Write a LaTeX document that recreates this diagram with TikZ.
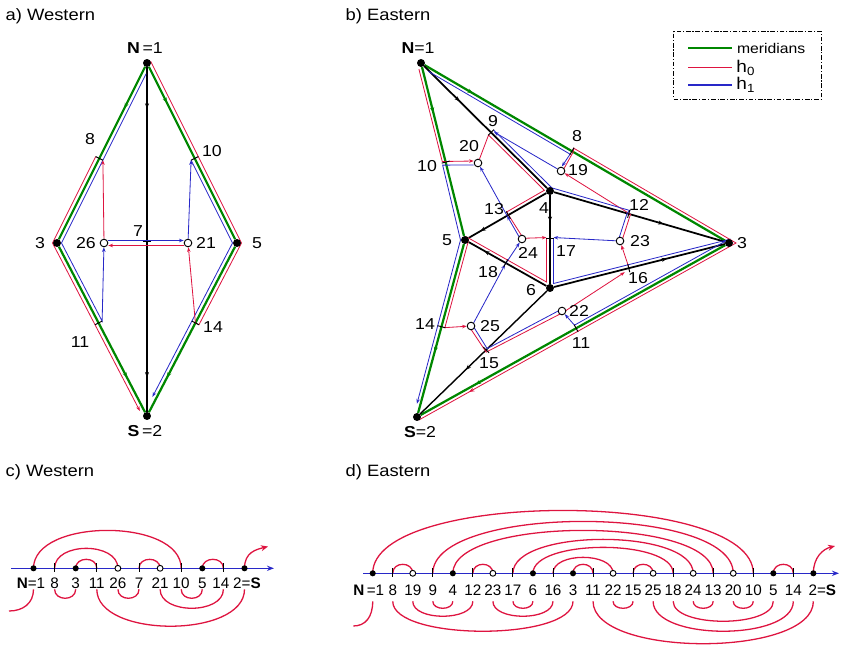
\documentclass[tikz,border=0pt]{standalone}
\usepackage{fontspec}
\setmainfont{Liberation Sans}[FakeStretch=1.12]
\newfontfamily\plainsf{Liberation Sans}
\usetikzlibrary{arrows.meta, calc, decorations.markings}
\pgfdeclarelayer{bg}
\pgfsetlayers{bg,main}
\definecolor{merid}{RGB}{0,135,0}
\definecolor{hred}{RGB}{222,20,64}
\definecolor{hblue}{RGB}{40,40,200}

\begin{document}
\begin{tikzpicture}[x=0.03cm, y=-0.03cm, font=\fontsize{13.5}{15}\selectfont,
    >={Stealth[length=4pt, width=3pt]},
    mer/.style={merid, line width=1.9pt},
    hzero/.style={hred, line width=0.7pt},
    hone/.style={hblue, line width=0.7pt},
    edg/.style={black, line width=1.5pt},
    tck/.style={black, line width=0.8pt},
    arr/.style={postaction={decorate, decoration={markings,
        mark=at position #1 with {\arrow{Stealth[length=4.5pt, width=3.5pt]}}}}},
    dot/.style={circle, fill=black, inner sep=0pt, minimum size=6.8pt},
    hole/.style={circle, draw=black, fill=white, line width=0.8pt, inner sep=0pt, minimum size=6.5pt},
    sdot/.style={dot, minimum size=5.2pt},
    shole/.style={hole, minimum size=5pt},
    ttl/.style={anchor=west, font=\fontsize{14}{16}\selectfont},
    axlbl/.style={font=\plainsf\fontsize{13}{15}\selectfont},
    harc/.style={hred, line width=1.1pt},
    hline/.style={hblue, line width=1.1pt, -{Stealth[length=6pt, width=4.5pt]}}]
\useasboundingbox (0,0) rectangle (844,652);

    % a) Western
    \node[ttl] (ta) at (1.5,16) {a) Western};
    \node[dot] (aN) at (147,63) {};
    \node[dot] (aS) at (147,416) {};
    \node[dot] (a3) at (57,243) {};
    \node[dot] (a5) at (237,243) {};
    \node[hole] (a26) at (104,243) {};
    \node[hole] (a21) at (188,243) {};
    \coordinate (a7) at (147,241.5);
    \coordinate (a8) at ($(aN)!0.53!(a3)$);
    \coordinate (a10) at ($(aN)!0.53!(a5)$);
    \coordinate (a11) at ($(a3)!0.462!(aS)$);
    \coordinate (a14) at ($(a5)!0.462!(aS)$);

    \node (laN) at (145,48) {\textbf{N}\,=1};
    \node (laS) at (145,431) {\textbf{S}\,=2};
    \node (la3) at (40,243) {3};
    \node (la5) at (257,243) {5};
    \node (la26) at (86,243) {26};
    \node (la21) at (206,243) {21};
    \node (la7) at (138,231) {7};
    \node (la8) at (90,139) {8};
    \node (la10) at (212,151) {10};
    \node (la11) at (80,342) {11};
    \node (la14) at (213,327) {14};

    \begin{pgfonlayer}{bg}
    \draw[mer, arr=0.24] (aN) -- (a3);
    \draw[mer, arr=0.79] (a3) -- (aS);
    \draw[mer, arr=0.21] (aN) -- (a5);
    \draw[mer, arr=0.79] (a5) -- (aS);
    \draw[edg, arr=0.12, arr=0.9] (aN) -- (aS);
    % h1
    \draw[hone, ->] ($(aN)!0.05!(a3)+(3.6,1.8)$) -- ($(a8)+(3.6,1.8)$) -- ($(a3)+(4.5,0)$)
        -- ($(a11)+(3.55,-1.85)$) -- (a26);
    \draw[hone, ->] ($(a26.east)+(0,-2.5)$) -- ($(a21.west)+(0,-2.5)$);
    \draw[hone, ->] (a21) -- ($(a10)+(-3.6,1.8)$);
    \draw[hone, ->] ($(a10)+(-3.6,1.8)$) -- ($(a5)+(-4.5,0)$) -- ($(a5)!0.9!(aS)+(-3.55,-1.85)$);
    % h0
    \draw[hzero, ->] ($(aN)+(3.6,-1.8)$) -- ($(a10)+(3.6,-1.8)$) -- ($(a5)+(4.5,0)$)
        -- ($(a14)+(3.55,1.85)$) -- (a14) -- (a21);
    \draw[hzero, ->] ($(a21.west)+(0,2.5)$) -- ($(a26.east)+(0,2.5)$);
    \draw[hzero, ->] (a26) -- ($(a8)+(3.6,1.8)$);
    \draw[hzero, ->] ($(a8)+(-3.6,-1.8)$) -- ($(a3)+(-4.5,0)$) -- ($(a3)!0.96!(aS)+(-3.55,1.85)$);
    \foreach \p/\q in {a7/aN, a8/aN, a10/aN, a11/aS, a14/aS}
        \draw[tck] ($(\p)!3.5pt!90:(\q)$) -- ($(\p)!3.5pt!-90:(\q)$);
    \end{pgfonlayer}

    % b) Eastern
    \node[ttl] (tb) at (341.5,16) {b) Eastern};
    \node[dot] (bN) at (421,63) {};
    \node[dot] (bS) at (417,417) {};
    \node[dot] (b3) at (729,243) {};
    \node[dot] (b4) at (550,191) {};
    \node[dot] (b5) at (465,240) {};
    \node[dot] (b6) at (550,288) {};
    \node[hole] (b19) at (561,171) {};
    \node[hole] (b20) at (478,163) {};
    \node[hole] (b22) at (562,311) {};
    \node[hole] (b23) at (620,241) {};
    \node[hole] (b24) at (522,239) {};
    \node[hole] (b25) at (471,326) {};
    \coordinate (b8) at ($(bN)!0.49!(b3)$);
    \coordinate (b9) at ($(bN)!0.543!(b4)$);
    \coordinate (b10) at ($(bN)!0.56!(b5)$);
    \coordinate (b12) at ($(b4)!0.44!(b3)$);
    \coordinate (b13) at ($(b4)!0.49!(b5)$);
    \coordinate (b17) at ($(b4)!0.49!(b6)$);
    \coordinate (b18) at ($(b6)!0.52!(b5)$);
    \coordinate (b16) at ($(b6)!0.44!(b3)$);
    \coordinate (b15) at ($(b6)!0.48!(bS)$);
    \coordinate (b11) at ($(b3)!0.49!(bS)$);
    \coordinate (b14) at ($(b5)!0.49!(bS)$);

    \node (lbN) at (418,48) {\textbf{N}=1};
    \node (lbS) at (420,432) {\textbf{S}=2};
    \node (lb3) at (742,243) {3};
    \node (lb4) at (544,208) {4};
    \node (lb5) at (447,240) {5};
    \node (lb6) at (531,290) {6};
    \node (lb8) at (577,136) {8};
    \node (lb9) at (493,121) {9};
    \node (lb10) at (427,166) {10};
    \node (lb11) at (581,343) {11};
    \node (lb12) at (639,205) {12};
    \node (lb13) at (494,209) {13};
    \node (lb14) at (425,324) {14};
    \node (lb15) at (489,363) {15};
    \node (lb16) at (638,278) {16};
    \node (lb17) at (566,251) {17};
    \node (lb18) at (488,272) {18};
    \node (lb19) at (578,170) {19};
    \node (lb20) at (469,146) {20};
    \node (lb22) at (579,311) {22};
    \node (lb23) at (640,241) {23};
    \node (lb24) at (528,253) {24};
    \node (lb25) at (490,326) {25};

    \begin{pgfonlayer}{bg}
    \draw[mer, arr=0.16] (bN) -- (b3);
    \draw[mer, arr=0.82] (b3) -- (bS);
    \draw[mer, arr=0.27] (bN) -- (b5);
    \draw[mer, arr=0.64] (b5) -- (bS);
    \draw[edg, arr=0.29] (bN) -- (b4);
    \draw[edg, arr=0.85] (b4) -- (b5);
    \draw[edg, arr=0.3] (b4) -- (b6);
    \draw[edg, arr=0.64] (b4) -- (b3);
    \draw[edg, arr=0.8] (b6) -- (b5);
    \draw[edg, arr=0.66] (b6) -- (b3);
    \draw[edg, line width=1.2pt, arr=0.64] (b6) -- (bS);
    % h0
    \draw[hzero, ->] ($(bN)!0.03!(b5)+(-3.4,0.8)$) -- ($(b10)+(-3.4,-0.6)$) -- ($(b20.west)+(0,-2)$);
    \draw[hzero, ->] (b20) -- ($(b9)+(-2.5,2.5)$) -- ($(b4)+(-5.7,-0.7)$) -- ($(b13)+(-1.75,-3)$)
        -- ($(b24)+(1.3,-0.7)$) -- ($(b17)+(-3.5,-1)$);
    \draw[hzero, ->] ($(b17)+(-3.5,0)$) -- ($(b6)+(-3.5,-6)$) -- ($(b5)+(1.7,-3)$) -- ($(b5)+(3.4,0.9)$)
        -- ($(b14)+(3.4,0.9)$) -- (b25);
    \draw[hzero, ->] ($(b25)+(-1.5,1)$) -- ($(b15)+(0,2.2)$) -- ($(b22)+(0.8,1.6)$) -- ($(b16)+(-4,4)$);
    \draw[hzero, ->] ($(b16)+(0,-1)$) -- (b23);
    \draw[hzero, ->] ($(b23)+(1.7,0.5)$) -- ($(b12)+(1.7,0.5)$) -- (b19);
    \draw[hzero, arr=0.9] ($(b19)+(1.3,0.7)$) -- ($(b8)+(1.3,0.7)$) -- ($(b8)+(1.8,-3)$) -- ($(b3)+(7,0)$)
        -- ($(bS)+(1.7,3.1)$);
    % h1
    \draw[hone, ->] ($(bN)!0.03!(b3)+(-1.8,3)$) -- ($(b8)+(-1.8,3)$) -- ($(b19)+(0.9,-4.6)$);
    \draw[hone, ->] (b19) -- ($(b9)+(3,-0.5)$);
    \draw[hone] ($(b9)+(2.5,-2.5)$) -- ($(b4)+(1.9,-3.1)$) -- ($(b12)+(1,-3.4)$) -- ($(b12)+(-1.7,-0.6)$)
        -- ($(b23)+(-1.7,-0.6)$);
    \draw[hone, ->] (b23) -- ($(b17)+(3.5,-1)$);
    \draw[hone, ->] ($(b17)+(3.5,0)$) -- ($(b6)+(3.5,-4.5)$) -- ($(b3)+(-1.2,-3.2)$) -- ($(b11)+(-1.7,-3.1)$)
        -- (b22);
    \draw[hone, ->] ($(b22)+(-0.8,-1.6)$) -- ($(b15)+(1,-1.3)$) -- ($(b25)+(1.5,-1)$) -- ($(b18)+(-0.8,1.5)$);
    \draw[hone, ->] ($(b18)+(-0.8,1.5)$) -- (b24);
    \draw[hone, ->] ($(b24)+(-1.3,0.7)$) -- ($(b13)+(-1.3,0.7)$);
    \draw[hone, ->] ($(b13)+(-1.3,0.7)$) -- (b20);
    \draw[hone, ->] ($(b20.west)+(0,2)$) -- ($(b10)+(-3,3)$) -- ($(b5)+(-4.5,0)$) -- ($(b5)!0.93!(bS)+(-3.4,-0.9)$);
    \foreach \p/\q in {b8/bN, b9/bN, b10/bN, b12/b4, b13/b4, b17/b4, b18/b6, b16/b6, b15/b6, b11/b3, b14/b5}
        \draw[tck] ($(\p)!3.5pt!90:(\q)$) -- ($(\p)!3.5pt!-90:(\q)$);
    \end{pgfonlayer}

    % legend
    \node[draw, dash pattern=on 4pt off 1.5pt on 1pt off 1.5pt, line width=0.8pt, inner sep=0pt,
        minimum width=126.5pt, minimum height=57.5pt] (lgd) at (747.7,65.5) {};
    \draw[mer] (688,48.3) -- (732,48.3) node[right, text=black, font=\fontsize{12}{14}\selectfont] (lgm) {meridians};
    \draw[hzero, line width=0.9pt] (688,67.7) -- (732,67.7) node[right, text=black, font=\fontsize{14.5}{16}\selectfont] (lgr) {h\textsubscript{0}};
    \draw[hone, line width=0.9pt] (688,85) -- (732,85) node[right, text=black, font=\fontsize{14.5}{16}\selectfont] (lgb) {h\textsubscript{1}};

    % c) Western
    \node[ttl] (tc) at (1.5,472) {c) Western};
    \foreach \v [count=\i from 0] in {1,8,3,11,26,7,21,10,5,14,2}
        \coordinate (c\v) at (33.5+21.1*\i,568.3);
    \coordinate (cA) at (11,568.3);
    \coordinate (cB) at (274,568.3);
    \coordinate (cN0) at (9,611);
    \coordinate (cS0) at (268,546.5);
    \foreach \v in {1,3,5,2} \node[sdot] (cv\v) at (c\v) {};
    \foreach \v in {26,21} \node[shole] (cv\v) at (c\v) {};
    \foreach \v in {8,3,11,26,7,21,10,5} \node[axlbl] (cl\v) at ($(c\v)+(0,15)$) {\v};
    \node[axlbl] (cl14) at ($(c14)+(-2.5,15)$) {14};
    \node[axlbl] (cl1) at ($(c1)+(-2.5,15)$) {\textbf{N}=1};
    \node[axlbl] (cl2) at ($(c2)+(2.5,15)$) {2=\textbf{S}};
    \begin{pgfonlayer}{bg}
    \draw[hline] (cA) -- (cB);
    \foreach \a/\b/\h in {1/10/38, 8/26/20, 3/11/9, 7/21/9, 5/14/9}
        \draw[harc] (c\a) .. controls +(0,-1.33*\h) and +(0,-1.33*\h) .. (c\b);
    \foreach \a/\b/\h in {8/3/9, 26/7/9, 10/5/9, 21/14/19, 11/2/37}
        \draw[harc] ($(c\a)+(0,21)$) .. controls +(0,1.33*\h) and +(0,1.33*\h) .. ($(c\b)+(0,21)$);
    \draw[harc] ($(c1)+(0,21)$) .. controls +(0,14) and +(14,0) .. (cN0);
    \draw[harc, -{Stealth[length=6pt, width=5pt]}] (c2) .. controls +(0,-16) and +(-12,3) .. (cS0);
    \foreach \v in {8,11,7,10,14} \draw[tck] ($(c\v)+(0,-5)$) -- ($(c\v)+(0,4)$);
    \end{pgfonlayer}

    % d) Eastern
    \node[ttl] (td) at (341.5,472) {d) Eastern};
    \foreach \v [count=\i from 0] in {1,8,19,9,4,12,23,17,6,16,3,11,22,15,25,18,24,13,20,10,5,14,2}
        \coordinate (d\v) at (372.7+20.03*\i,573.3);
    \coordinate (dA) at (363,573.3);
    \coordinate (dB) at (839,573.3);
    \coordinate (dN0) at (353.3,626);
    \coordinate (dS0) at (835,546);
    \foreach \v in {1,4,6,3,5,2} \node[sdot] (dv\v) at (d\v) {};
    \foreach \v in {19,23,22,25,24,20} \node[shole] (dv\v) at (d\v) {};
    \foreach \v in {8,19,9,4,12,23,17,6,16,3,11,22,15,25,18,24,13,20,10,5,14}
        \node[axlbl] (dl\v) at ($(d\v)+(0,16.7)$) {\v};
    \node[axlbl] (dl1) at ($(d1)+(-4,16.7)$) {\textbf{N}\,=1};
    \node[axlbl] (dl2) at ($(d2)+(9,16.7)$) {2=\textbf{S}};
    \begin{pgfonlayer}{bg}
    \draw[hline] (dA) -- (dB);
    \foreach \a/\b/\h in {1/10/63, 9/20/52, 4/13/43, 17/24/34, 6/18/26, 16/22/16, 8/19/9, 12/23/9, 3/11/9, 15/25/9, 5/14/9}
        \draw[harc] (d\a) .. controls +(0,-1.33*\h) and +(0,-1.33*\h) .. (d\b);
    \foreach \a/\b/\h in {8/3/30, 19/12/15, 9/4/7, 23/16/15, 17/6/7, 11/2/42.5, 22/15/7, 25/14/30, 18/5/20, 24/13/7, 20/10/7}
        \draw[harc] ($(d\a)+(0,28)$) .. controls +(0,1.33*\h) and +(0,1.33*\h) .. ($(d\b)+(0,28)$);
    \draw[harc] ($(d1)+(0,28)$) .. controls +(0,16) and +(12,0) .. (dN0);
    \draw[harc, -{Stealth[length=6pt, width=5pt]}] (d2) .. controls +(0,-16) and +(-12,3) .. (dS0);
    \foreach \v in {8,9,12,17,16,11,15,18,13,10,14} \draw[tck] ($(d\v)+(0,-5)$) -- ($(d\v)+(0,4)$);
    \end{pgfonlayer}
\end{tikzpicture}
\end{document}
